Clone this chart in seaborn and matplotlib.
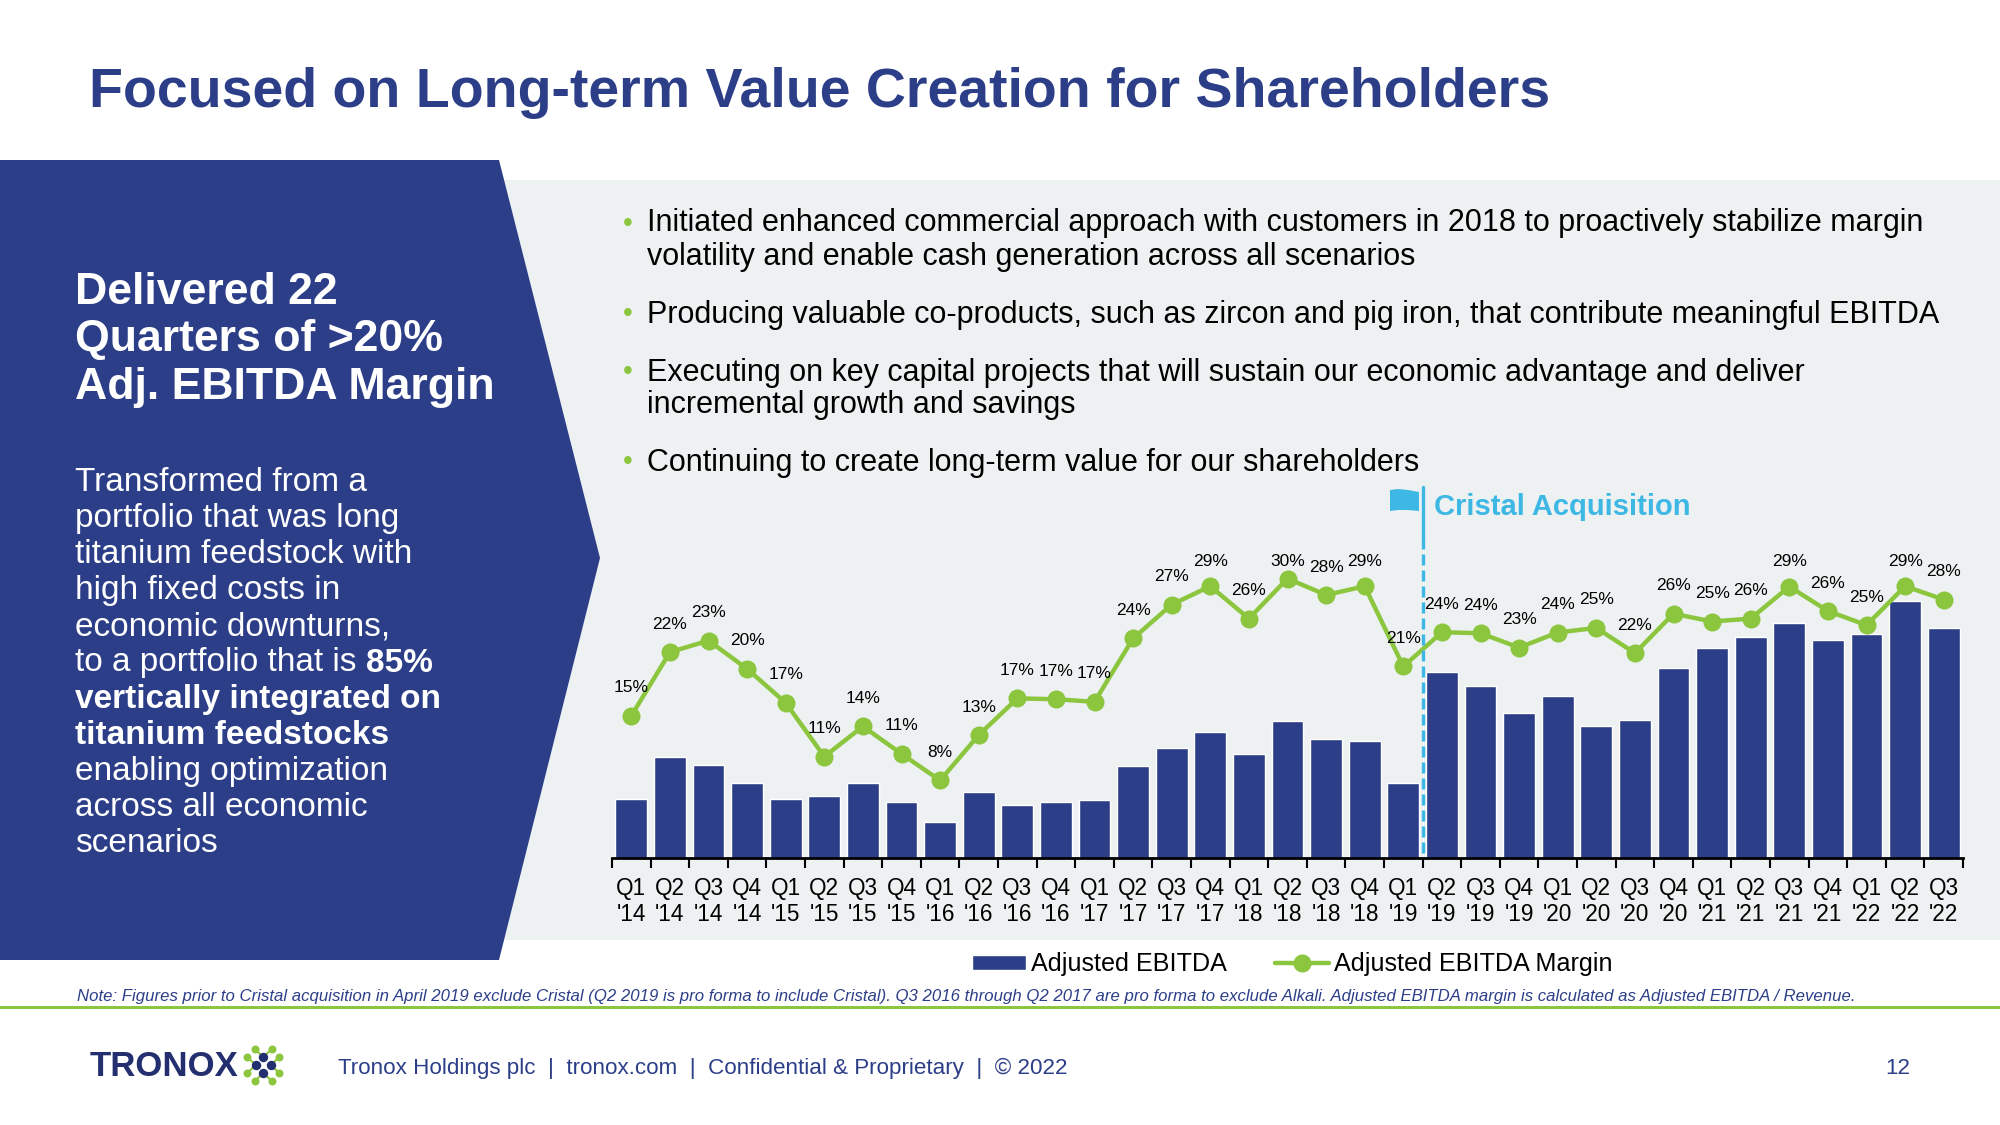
import matplotlib
matplotlib.use('Agg')
import matplotlib.pyplot as plt
from matplotlib.patches import Polygon, Rectangle
import pandas as pd
import seaborn as sns

NAVY = '#2C3E88'
DARK_NAVY = '#232F6E'
GREEN = '#8CC63F'
BLUE = '#3DB7E4'
PANEL = '#EEF1F2'

quarters = ["Q1\n'14", "Q2\n'14", "Q3\n'14", "Q4\n'14", "Q1\n'15", "Q2\n'15", "Q3\n'15", "Q4\n'15",
            "Q1\n'16", "Q2\n'16", "Q3\n'16", "Q4\n'16", "Q1\n'17", "Q2\n'17", "Q3\n'17", "Q4\n'17",
            "Q1\n'18", "Q2\n'18", "Q3\n'18", "Q4\n'18", "Q1\n'19", "Q2\n'19", "Q3\n'19", "Q4\n'19",
            "Q1\n'20", "Q2\n'20", "Q3\n'20", "Q4\n'20", "Q1\n'21", "Q2\n'21", "Q3\n'21", "Q4\n'21",
            "Q1\n'22", "Q2\n'22", "Q3\n'22"]
# no axis values in the source, bar heights are estimated
ebitda = [63, 108, 100, 80, 63, 66, 80, 60,
          39, 71, 57, 60, 62, 99, 118, 135,
          112, 147, 128, 125, 80, 200, 184, 156,
          174, 142, 148, 204, 225, 237, 252, 234,
          240, 276, 247]
margin = [15.05, 22.0, 23.27, 20.18, 16.47, 10.6, 13.9, 10.9,
          8.0, 12.95, 16.95, 16.87, 16.58, 23.5, 27.2, 29.2,
          25.67, 30.04, 28.25, 29.2, 20.44, 24.18, 24.07, 22.5,
          24.15, 24.65, 21.9, 26.2, 25.35, 25.67, 29.16, 26.5,
          24.95, 29.2, 27.75]
margin_labels = [15, 22, 23, 20, 17, 11, 14, 11,
                 8, 13, 17, 17, 17, 24, 27, 29,
                 26, 30, 28, 29, 21, 24, 24, 23,
                 24, 25, 22, 26, 25, 26, 29, 26,
                 25, 29, 28]

bullets = [["Initiated enhanced commercial approach with customers in 2018 to proactively stabilize margin",
            "volatility and enable cash generation across all scenarios"],
           ["Producing valuable co-products, such as zircon and pig iron, that contribute meaningful EBITDA"],
           ["Executing on key capital projects that will sustain our economic advantage and deliver",
            "incremental growth and savings"],
           ["Continuing to create long-term value for our shareholders"]]
bullet_y = [223.5, 314.5, 372.5, 462.5]

heading = ["Delivered 22", "Quarters of >20%", "Adj. EBITDA Margin"]
body = [("Transformed from a", ""), ("portfolio that was long", ""), ("titanium feedstock with", ""),
        ("high fixed costs in", ""), ("economic downturns,", ""), ("to a portfolio that is ", "85%"),
        ("", "vertically integrated on"), ("", "titanium feedstocks"), ("enabling optimization", ""),
        ("across all economic", ""), ("scenarios", "")]

df = pd.DataFrame({'quarter': quarters, 'ebitda': ebitda, 'margin': margin})

sns.set_theme(style='white')
plt.rcParams['font.family'] = ['Liberation Sans', 'DejaVu Sans']

fig = plt.figure(figsize=(20, 11.25), dpi=100, facecolor='white')

# slide layer in pixel coordinates
bg = fig.add_axes([0, 0, 1, 1], zorder=0)
bg.set_xlim(0, 2000)
bg.set_ylim(1125, 0)
bg.axis('off')
bg.add_patch(Rectangle((499, 180), 1501, 760, color=PANEL, lw=0))
bg.add_patch(Polygon([(0, 160), (499, 160), (600, 558), (499, 960), (0, 960)], color=NAVY, lw=0))
bg.add_patch(Rectangle((0, 1005.5), 2000, 3, color=GREEN, lw=0))

bg.text(89, 93, "Focused on Long-term Value Creation for Shareholders", fontsize=40, fontweight='bold',
        color=NAVY, va='center')

for y, line in zip([292, 340, 388], heading):
    bg.text(75, y, line, fontsize=32.1, fontweight='bold', color='white', va='center')

renderer = fig.canvas.get_renderer()
for i, (plain, bold) in enumerate(body):
    y = 491 + i * 36.1
    x = 75
    if plain:
        t = bg.text(x, y, plain, fontsize=24, color='white', va='baseline')
        x = bg.transData.inverted().transform(t.get_window_extent(renderer).get_points())[1][0]
    if bold:
        bg.text(x, y, bold, fontsize=24, fontweight='bold', color='white', va='baseline')

for y, lines in zip(bullet_y, bullets):
    bg.text(623, y, "•", fontsize=20, color=GREEN, va='center')
    for j, line in enumerate(lines):
        bg.text(647, y + j * 33, line, fontsize=22, color='black', va='center')

bg.text(77, 996, "Note: Figures prior to Cristal acquisition in April 2019 exclude Cristal (Q2 2019 is pro forma to include Cristal). "
        "Q3 2016 through Q2 2017 are pro forma to exclude Alkali. Adjusted EBITDA margin is calculated as Adjusted EBITDA / Revenue.",
        fontsize=12.06, style='italic', color=NAVY, va='center')
bg.text(90, 1067, "TRONOX", fontsize=25, fontweight='bold', color=DARK_NAVY, va='center')
bg.text(338, 1068, "Tronox Holdings plc  |  tronox.com  |  Confidential & Proprietary  |  © 2022", fontsize=16.12, color=NAVY, va='center')
bg.text(1898, 1068, "12", fontsize=16.12, color=NAVY, va='center', ha='center')

# logo dots
navy_dots = [(263, 1057), (256, 1065), (271, 1065), (263, 1073)]
green_dots = [(255, 1049), (272, 1049), (247, 1057), (279, 1057), (247, 1073), (279, 1073), (255, 1081), (272, 1081)]
links = [0, 0, 1, 2, 1, 2, 3, 3]
for (gx, gy), k in zip(green_dots, links):
    bg.plot([gx, navy_dots[k][0]], [gy, navy_dots[k][1]], color=GREEN, lw=1.5, zorder=2)
bg.scatter([p[0] for p in green_dots], [p[1] for p in green_dots], s=33, color=GREEN, lw=0, zorder=3)
bg.scatter([p[0] for p in navy_dots], [p[1] for p in navy_dots], s=46, color=DARK_NAVY, lw=0, zorder=4)

# flag
bg.add_patch(Polygon([(1390, 490), (1398, 489), (1408, 490), (1419, 492), (1419, 511), (1408, 510), (1398, 510), (1390, 511)],
                     color=BLUE, lw=0))
bg.text(1434, 507, "Cristal Acquisition", fontsize=21, fontweight='bold', color=BLUE, va='center')

# chart, x and y limits put it on the slide panel
ax = fig.add_axes([612 / 2000, 1 - 858 / 1125, 1351 / 2000, 378 / 1125], zorder=2)
ax.patch.set_alpha(0)
sns.barplot(data=df, x='quarter', y='ebitda', color=NAVY, width=0.82, saturation=1, ax=ax, label='Adjusted EBITDA')
ax.set_xlim(-0.5, 34.5)
ax.set_ylim(0, 405.4)
ax.set_xlabel('')
ax.set_ylabel('')
ax.set_yticks([])
for side in ['top', 'left', 'right']:
    ax.spines[side].set_visible(False)
ax.spines['bottom'].set_color('black')
ax.spines['bottom'].set_linewidth(2)
ax.tick_params(axis='x', which='major', length=0, labelsize=16.3, labelcolor='black', pad=14)
for lbl in ax.get_xticklabels():
    lbl.set_linespacing(1.15)
ax.set_xticks([i - 0.5 for i in range(len(quarters) + 1)], minor=True)
ax.tick_params(axis='x', which='minor', bottom=True, length=7, width=1.5, color='black')

ax2 = ax.twinx()
ax2.patch.set_alpha(0)
sns.lineplot(data=df, x='quarter', y='margin', color=GREEN, lw=3.2, marker='o', markersize=13,
             markeredgewidth=0, sort=False, errorbar=None, ax=ax2, label='Adjusted EBITDA Margin')
ax2.set_ylim(-0.47, 40.8)
ax2.set_xlim(-0.5, 34.5)
ax2.set_yticks([])
ax2.set_ylabel('')
ax2.set_xlabel('')
for side in ax2.spines:
    ax2.spines[side].set_visible(False)

# labels sit a fixed distance above the point, capped near the top row
for i, (m, lab) in enumerate(zip(margin, margin_labels)):
    ax2.text(i, min(m + 3.05, 31.95), f"{lab}%", fontsize=12.5, color='black', ha='center', va='center')

ax2.plot([20.5, 20.5], [34.47, -0.47], color=BLUE, lw=2.4, ls=(0, (3.3, 1.5)), zorder=5)
ax2.plot([20.5, 20.5], [34.47, 40.0], color=BLUE, lw=2.4, zorder=5)

h1, l1 = ax.get_legend_handles_labels()
h2, l2 = ax2.get_legend_handles_labels()
ax2.get_legend().remove()
ax.get_legend().remove()
fig.legend(h1 + h2, l1 + l2, ncol=2, loc='center', bbox_to_anchor=(1292 / 2000, 1 - 964 / 1125), frameon=False,
           fontsize=18.1, handlelength=2.15, handleheight=0.55, handletextpad=0.2, columnspacing=1.9, labelcolor='black')

fig.savefig('out.png', dpi=100)
